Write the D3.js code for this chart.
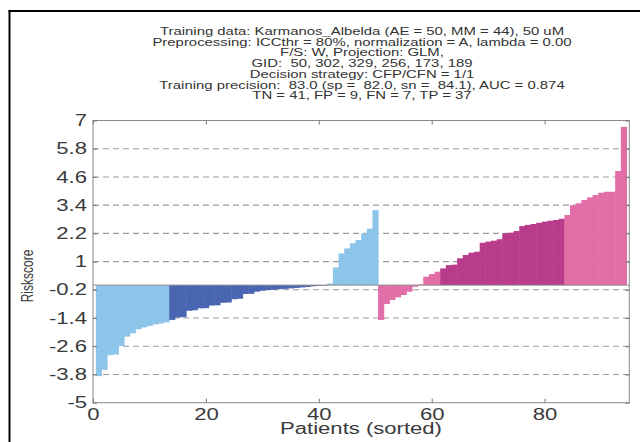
<!DOCTYPE html>
<html><head><meta charset="utf-8">
<script src="https://cdn.jsdelivr.net/npm/d3@7"></script>
<style>body{margin:0;background:#fff}svg{display:block}</style>
</head><body><svg id="c" width="640" height="442"></svg>
<script>
// ---------- data ----------
const titleLines = [
  "Training data: Karmanos_Albelda (AE = 50, MM = 44), 50 uM",
  "Preprocessing: ICCthr = 80%, normalization = A, lambda = 0.00",
  "F/S: W, Projection: GLM,",
  "GID:  50, 302, 329, 256, 173, 189",
  "Decision strategy: CFP/CFN = 1/1",
  "Training precision:  83.0 (sp =  82.0, sn =  84.1), AUC = 0.874",
  "TN = 41, FP = 9, FN = 7, TP = 37"
];
// AE patients (sorted riskscore)
const aeScores = [
  -3.87, -3.6, -2.98, -2.95, -2.59, -2.19, -2.05, -1.88, -1.8, -1.74,
  -1.67, -1.63, -1.58, -1.48, -1.38, -1.36, -1.09, -1.07, -0.99, -0.98,
  -0.87, -0.86, -0.75, -0.74, -0.6, -0.58, -0.38, -0.37, -0.28, -0.24,
  -0.21, -0.2, -0.17, -0.16, -0.14, -0.12, -0.1, -0.08, -0.05, -0.03,
  -0.02, 0.07, 0.75, 1.35, 1.56, 1.78, 1.92, 2.2, 2.4, 3.19
];
// MM patients (sorted riskscore)
const mmScores = [
  -1.48, -0.8, -0.63, -0.52, -0.42, -0.28, -0.07, 0.03, 0.36, 0.47,
  0.57, 0.71, 0.85, 0.87, 1.14, 1.28, 1.38, 1.42, 1.8, 1.85,
  1.89, 1.95, 2.2, 2.23, 2.3, 2.51, 2.56, 2.6, 2.65, 2.7,
  2.74, 2.77, 2.82, 2.98, 3.4, 3.48, 3.62, 3.73, 3.83, 3.93,
  3.97, 3.97, 4.85, 6.73
];
// shade runs (group, count)
const aeShadeRuns = [["light", 13], ["dark", 28], ["light", 9]];
const mmShadeRuns = [["light", 11], ["dark", 22], ["light", 11]];
const yTicks = [7, 5.8, 4.6, 3.4, 2.2, 1, -0.2, -1.4, -2.6, -3.8, -5];
const xTicks = [0, 20, 40, 60, 80];
const xLabel = "Patients (sorted)";
const yLabel = "Riskscore";

// ---------- drawing ----------
const FONT = "'Liberation Sans', Arial, sans-serif";
const SX = 1.38;   // horizontal glyph stretch
const SXT = 1.42;  // title stretch
const colors = {
  AE: { light: "#8cc4ea", dark: "#4a66b2" },
  MM: { light: "#e26ea8", dark: "#b93b8c" }
};
function expand(runs) { const out = []; runs.forEach(([g, n]) => { for (let k = 0; k < n; k++) out.push(g); }); return out; }
const aeShade = expand(aeShadeRuns), mmShade = expand(mmShadeRuns);
const bars = [];
aeScores.forEach((v, i) => bars.push({ v, cls: "AE", shade: aeShade[i] }));
mmScores.forEach((v, i) => bars.push({ v, cls: "MM", shade: mmShade[i] }));
bars.forEach((b, i) => b.x = i + 1);

const svg = d3.select("#c");
svg.append("rect").attr("width", 640).attr("height", 442).attr("fill", "#fff");

const x = d3.scaleLinear([0, 95], [93, 629.3]);
const y = d3.scaleLinear([-5, 7], [402.7, 120.5]);

// frame
svg.append("line").attr("x1", 9.5).attr("x2", 9.5).attr("y1", 10).attr("y2", 442).attr("stroke", "#000").attr("stroke-width", 2);
svg.append("line").attr("x1", 8.5).attr("x2", 640).attr("y1", 11).attr("y2", 11).attr("stroke", "#000").attr("stroke-width", 2);

// title
titleLines.forEach((t, i) => {
  svg.append("text").attr("transform", `translate(362,${35 + i * 10.72}) scale(${SXT},1)`)
    .attr("text-anchor", "middle").attr("font-family", FONT).attr("font-size", 10.5)
    .style("white-space", "pre").attr("fill", "#333").text(t);
});

// grid
svg.append("g").selectAll("line").data(yTicks.filter(d => d !== 7 && d !== -5)).join("line")
  .attr("x1", x(0)).attr("x2", x(95)).attr("y1", d => y(d)).attr("y2", d => y(d))
  .attr("stroke", "#9a9a9a").attr("stroke-width", 1.1).attr("stroke-dasharray", "6,4");

// bars
svg.append("g").selectAll("rect").data(bars).join("rect")
  .attr("x", d => x(d.x - 0.5))
  .attr("width", d => x(d.x + 0.5) - x(d.x - 0.5) + 0.5)
  .attr("y", d => y(Math.max(0, d.v)))
  .attr("height", d => Math.abs(y(d.v) - y(0)))
  .attr("fill", d => colors[d.cls][d.shade]);

// baseline
svg.append("line").attr("x1", x(0)).attr("x2", x(95)).attr("y1", y(0)).attr("y2", y(0))
  .attr("stroke", "#8a8a8a").attr("stroke-width", 1);

// box
svg.append("rect").attr("x", x(0)).attr("y", y(7)).attr("width", x(95) - x(0)).attr("height", y(-5) - y(7))
  .attr("fill", "none").attr("stroke", "#8a8a8a").attr("stroke-width", 1);

function styleAxis(g) {
  g.select(".domain").remove();
  g.selectAll(".tick line").attr("stroke", "#777");
  g.selectAll(".tick text").attr("font-family", FONT).attr("font-size", 16).attr("fill", "#3a3a3a");
}
const yAx = svg.append("g").attr("transform", `translate(${x(0)},0)`)
  .call(d3.axisLeft(y).tickValues(yTicks).tickFormat(d => String(d)).tickSizeInner(-4).tickSizeOuter(0).tickPadding(6));
styleAxis(yAx);
yAx.selectAll(".tick text").attr("x", -6 / SX).attr("transform", `scale(${SX},1)`);

const yAxR = svg.append("g").attr("transform", `translate(${x(95)},0)`)
  .call(d3.axisRight(y).tickValues(yTicks).tickFormat("").tickSizeInner(-4).tickSizeOuter(0));
styleAxis(yAxR);

const xAx = svg.append("g").attr("transform", `translate(0,${y(-5)})`)
  .call(d3.axisBottom(x).tickValues(xTicks).tickFormat(d => String(d)).tickSizeInner(-4).tickSizeOuter(0).tickPadding(5.5));
styleAxis(xAx);
xAx.selectAll(".tick text").attr("transform", `scale(${SX},1)`);

const xAxT = svg.append("g").attr("transform", `translate(0,${y(7)})`)
  .call(d3.axisTop(x).tickValues(xTicks).tickFormat("").tickSizeInner(-4).tickSizeOuter(0));
styleAxis(xAxT);

// axis labels
svg.append("text").attr("transform", `translate(361,434) scale(${SX},1)`)
  .attr("text-anchor", "middle").attr("font-family", FONT).attr("font-size", 16).attr("fill", "#3a3a3a").text(xLabel);
svg.append("text").attr("transform", `translate(33,276) scale(${SX},1) rotate(-90)`)
  .attr("text-anchor", "middle").attr("font-family", FONT).attr("font-size", 12).attr("fill", "#3a3a3a").text(yLabel);
</script></body></html>
